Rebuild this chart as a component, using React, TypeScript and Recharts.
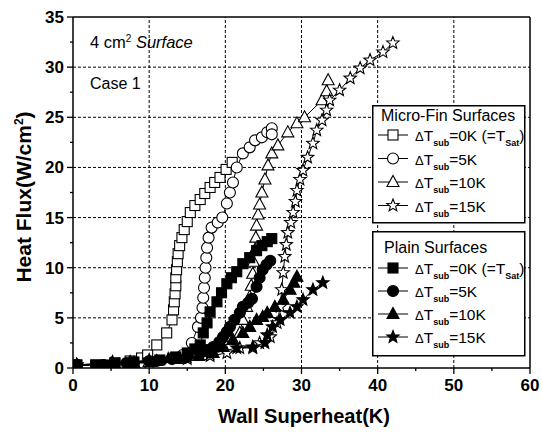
import {
  ScatterChart,
  Scatter,
  XAxis,
  YAxis,
  ReferenceLine,
  Legend,
} from "recharts";

// micro-fin surfaces (open symbols)
const microSat = [
  { x: 0.5, y: 0.3 }, { x: 3, y: 0.3 }, { x: 5.5, y: 0.5 }, { x: 7.5, y: 0.7 }, { x: 9, y: 1 },
  { x: 9.8, y: 1.3 }, { x: 11, y: 2.3 }, { x: 12.3, y: 3.5 }, { x: 13, y: 4.8 }, { x: 13.2, y: 5.8 },
  { x: 13.3, y: 6.6 }, { x: 13.4, y: 7.4 }, { x: 13.5, y: 8.2 }, { x: 13.5, y: 9 }, { x: 13.6, y: 9.8 },
  { x: 13.7, y: 10.6 }, { x: 13.8, y: 11.4 }, { x: 14, y: 12.2 }, { x: 14.3, y: 13 }, { x: 14.6, y: 13.8 },
  { x: 15, y: 14.6 }, { x: 15.4, y: 15.5 }, { x: 16, y: 16.2 }, { x: 16.7, y: 16.8 }, { x: 17.3, y: 17.4 },
  { x: 18, y: 18 }, { x: 18.6, y: 18.5 }, { x: 19.3, y: 19 }, { x: 20.1, y: 19.8 }, { x: 20.9, y: 20.5 },
];
const micro5 = [
  { x: 0.5, y: 0.3 }, { x: 4, y: 0.3 }, { x: 8, y: 0.5 }, { x: 11, y: 0.7 }, { x: 13, y: 1 },
  { x: 14.4, y: 1.3 }, { x: 15.6, y: 2.5 }, { x: 16.4, y: 4.1 }, { x: 16.8, y: 5 }, { x: 17, y: 6 },
  { x: 17.1, y: 7 }, { x: 17.2, y: 8 }, { x: 17.3, y: 9 }, { x: 17.4, y: 10 }, { x: 17.5, y: 11 },
  { x: 17.6, y: 12 }, { x: 17.8, y: 13 }, { x: 18.2, y: 14 }, { x: 19, y: 14.5 }, { x: 19.6, y: 15 },
  { x: 20.2, y: 16.4 }, { x: 20.6, y: 17.5 }, { x: 21, y: 18.5 }, { x: 21.5, y: 20 }, { x: 22.3, y: 21.4 },
  { x: 23.2, y: 22 }, { x: 23.9, y: 22.7 }, { x: 24.8, y: 23 }, { x: 25.5, y: 23.5 }, { x: 26.1, y: 23.9 },
  { x: 26.1, y: 23.3 },
];
const micro10 = [
  { x: 0.5, y: 0.3 }, { x: 5, y: 0.4 }, { x: 10, y: 0.6 }, { x: 14, y: 0.9 }, { x: 17, y: 1.3 },
  { x: 19.3, y: 2.4 }, { x: 21, y: 2.8 }, { x: 21.9, y: 3.5 }, { x: 22.3, y: 4.8 }, { x: 22.8, y: 6.1 },
  { x: 23.2, y: 7.1 }, { x: 23.4, y: 8.2 }, { x: 23.6, y: 9.4 }, { x: 23.7, y: 10.6 }, { x: 23.9, y: 11.8 },
  { x: 24, y: 13 }, { x: 24.1, y: 14.2 }, { x: 24.3, y: 15.3 }, { x: 24.5, y: 16.3 }, { x: 24.8, y: 17.5 },
  { x: 25.2, y: 18.8 }, { x: 25.6, y: 20.2 }, { x: 26.1, y: 21.4 }, { x: 26.9, y: 22.2 }, { x: 28.2, y: 23.5 },
  { x: 29.4, y: 24.4 }, { x: 30.4, y: 25 }, { x: 32.7, y: 26.7 }, { x: 33.3, y: 27.6 }, { x: 33.5, y: 28.7 },
];
const micro15 = [
  { x: 0.5, y: 0.3 }, { x: 5, y: 0.4 }, { x: 10, y: 0.6 }, { x: 15, y: 0.9 }, { x: 18, y: 1.2 },
  { x: 20.2, y: 1.5 }, { x: 21.9, y: 2 }, { x: 23.6, y: 2 }, { x: 24.5, y: 2.5 }, { x: 25.9, y: 3.1 },
  { x: 26.8, y: 4.5 }, { x: 27.2, y: 6.1 }, { x: 27.4, y: 7.8 }, { x: 27.6, y: 9.5 }, { x: 27.8, y: 11.1 },
  { x: 28, y: 12.3 }, { x: 28.2, y: 13.5 }, { x: 28.6, y: 14.5 }, { x: 28.9, y: 15.5 }, { x: 29.2, y: 16.6 },
  { x: 29.4, y: 17.7 }, { x: 29.8, y: 18.8 }, { x: 30.2, y: 19.7 }, { x: 30.8, y: 21 }, { x: 31.5, y: 22.4 },
  { x: 32, y: 23.7 }, { x: 32.7, y: 24.7 }, { x: 33.3, y: 25.7 }, { x: 33.7, y: 26.7 }, { x: 35, y: 27.7 },
  { x: 36.4, y: 28.9 }, { x: 37.7, y: 29.9 }, { x: 39, y: 30.7 }, { x: 40.7, y: 31.5 }, { x: 42, y: 32.4 },
];

// plain surfaces (filled symbols)
const plainSat = [
  { x: 0.5, y: 0.3 }, { x: 3, y: 0.3 }, { x: 5.5, y: 0.5 }, { x: 8, y: 0.6 }, { x: 11.4, y: 0.8 },
  { x: 13.5, y: 1.1 }, { x: 15, y: 1.5 }, { x: 16, y: 1.9 }, { x: 16.7, y: 2.3 }, { x: 17.1, y: 3.5 },
  { x: 17.6, y: 4.5 }, { x: 18, y: 5.6 }, { x: 18.9, y: 6.6 }, { x: 19.5, y: 7.5 }, { x: 20.2, y: 8.4 },
  { x: 20.8, y: 9 }, { x: 21.5, y: 9.6 }, { x: 22.3, y: 10.4 }, { x: 23.2, y: 11 }, { x: 24.1, y: 11.7 },
  { x: 24.8, y: 12.2 }, { x: 25.5, y: 12.6 }, { x: 26.1, y: 12.9 },
];
const plain5 = [
  { x: 0.5, y: 0.3 }, { x: 4, y: 0.3 }, { x: 7, y: 0.5 }, { x: 10, y: 0.7 }, { x: 13, y: 0.9 },
  { x: 15, y: 1.1 }, { x: 16.7, y: 1.5 }, { x: 17.6, y: 1.8 }, { x: 18.4, y: 2.1 }, { x: 19.2, y: 2.6 },
  { x: 19.7, y: 3.1 }, { x: 20.2, y: 3.6 }, { x: 20.6, y: 4.1 }, { x: 21.2, y: 4.8 }, { x: 21.9, y: 5.5 },
  { x: 22.3, y: 6.1 }, { x: 23, y: 6.5 }, { x: 23.5, y: 6.9 }, { x: 24.1, y: 8.1 }, { x: 24.5, y: 9 },
  { x: 24.9, y: 9.8 }, { x: 25.4, y: 10.3 }, { x: 25.9, y: 10.7 },
];
const plain10 = [
  { x: 0.5, y: 0.3 }, { x: 5, y: 0.4 }, { x: 8, y: 0.5 }, { x: 11, y: 0.7 }, { x: 14, y: 0.9 },
  { x: 16.5, y: 1.2 }, { x: 18.4, y: 1.5 }, { x: 19.7, y: 2.1 }, { x: 21, y: 2.8 }, { x: 22.3, y: 3.5 },
  { x: 23.2, y: 4.1 }, { x: 24.1, y: 4.8 }, { x: 24.9, y: 5.1 }, { x: 25.5, y: 5.5 }, { x: 26.5, y: 6.1 },
  { x: 27.6, y: 6.8 }, { x: 28.5, y: 7.8 }, { x: 29, y: 8.5 }, { x: 29.4, y: 9.1 },
];
const plain15 = [
  { x: 0.5, y: 0.3 }, { x: 5.2, y: 0.6 }, { x: 7.5, y: 0.6 }, { x: 10, y: 0.8 }, { x: 12.5, y: 0.9 },
  { x: 15, y: 1.1 }, { x: 18, y: 1.4 }, { x: 21.5, y: 2 }, { x: 23.6, y: 2.1 }, { x: 25.2, y: 2.5 },
  { x: 25.5, y: 3.3 }, { x: 26.2, y: 4.1 }, { x: 27.2, y: 4.8 }, { x: 28.5, y: 5.5 }, { x: 29.4, y: 6.1 },
  { x: 30.2, y: 6.8 }, { x: 31.5, y: 7.8 }, { x: 32.8, y: 8.5 },
];

const xTicks = [0, 5, 10, 15, 20, 25, 30, 35, 40, 45, 50, 55, 60];
const yTicks = [0, 2.5, 5, 7.5, 10, 12.5, 15, 17.5, 20, 22.5, 25, 27.5, 30, 32.5, 35];
const xGrid = [10, 20, 30, 40, 50];
const yGrid = [5, 10, 15, 20, 25, 30];
const subLabels = ["=0K (=T", "=5K", "=10K", "=15K"];

const FONT = "'Liberation Sans', Arial, Helvetica, sans-serif";

function Marker({ kind, filled, cx, cy }: any) {
  const fill = filled ? "#000" : "#fff";
  const sw = 1.1;
  if (kind === "square") {
    return <rect x={cx - 5} y={cy - 5} width={10} height={10} fill={fill} stroke="#000" strokeWidth={sw} />;
  }
  if (kind === "circle") {
    return <circle cx={cx} cy={cy} r={5.5} fill={fill} stroke="#000" strokeWidth={sw} />;
  }
  if (kind === "triangle") {
    return (
      <polygon
        points={`${cx},${cy - 6.5} ${cx + 6},${cy + 4.5} ${cx - 6},${cy + 4.5}`}
        fill={fill}
        stroke="#000"
        strokeWidth={sw}
      />
    );
  }
  // star
  const pts: string[] = [];
  for (let i = 0; i < 10; i++) {
    const r = i % 2 === 0 ? 6.5 : 2.8;
    const a = -Math.PI / 2 + (i * Math.PI) / 5;
    pts.push(`${cx + r * Math.cos(a)},${cy + r * Math.sin(a)}`);
  }
  return <polygon points={pts.join(" ")} fill={fill} stroke="#000" strokeWidth={sw} />;
}

const shapeOf = (kind: string, filled: boolean) => (p: any) =>
  <Marker kind={kind} filled={filled} cx={p.cx} cy={p.cy} />;

function XTick({ x, y, payload }: any) {
  const major = payload.value % 10 === 0;
  return (
    <g>
      <line x1={x} y1={y} x2={x} y2={y + (major ? 6 : 3)} stroke="#000" strokeWidth={1.3} />
      {major && (
        <text x={x} y={y + 23} textAnchor="middle" fontSize={17} fontWeight="bold" fontFamily={FONT} fill="#000">
          {payload.value}
        </text>
      )}
    </g>
  );
}

function YTick({ x, y, payload }: any) {
  const major = payload.value % 5 === 0;
  return (
    <g>
      <line x1={x} y1={y} x2={x - (major ? 6 : 3)} y2={y} stroke="#000" strokeWidth={1.3} />
      {major && (
        <text x={x - 9} y={y + 6} textAnchor="end" fontSize={17} fontWeight="bold" fontFamily={FONT} fill="#000">
          {payload.value}
        </text>
      )}
    </g>
  );
}

function LegendRow({ y, kind, filled, label, sat }: any) {
  return (
    <g>
      <line x1={6} y1={y} x2={36} y2={y} stroke="#000" strokeWidth={1} />
      <Marker kind={kind} filled={filled} cx={21} cy={y} />
      <text x={43} y={y + 6} fontSize={15.5} fontFamily={FONT} fill="#000">
        <tspan fontSize={13}>Δ</tspan>T
        <tspan dy={5} fontSize={9} fontWeight="bold">sub</tspan>
        <tspan dy={-5}>{label}</tspan>
        {sat && (
          <>
            <tspan dy={5} fontSize={9} fontWeight="bold">Sat</tspan>
            <tspan dy={-5}>)</tspan>
          </>
        )}
      </text>
    </g>
  );
}

const kinds = ["square", "circle", "triangle", "star"];

function LegendBoxes() {
  return (
    <svg width={156} height={253} style={{ display: "block", overflow: "visible" }}>
      <rect x={0.75} y={0.75} width={152} height={117} fill="#fff" stroke="#000" strokeWidth={1.5} />
      <text x={9} y={16} fontSize={16} fontFamily={FONT} fill="#000">Micro-Fin Surfaces</text>
      {kinds.map((k, i) => (
        <LegendRow key={k} y={30 + i * 23.5} kind={k} filled={false} label={subLabels[i]} sat={i === 0} />
      ))}
      <rect x={0.75} y={126.75} width={152} height={124} fill="#fff" stroke="#000" strokeWidth={1.5} />
      <text x={12} y={148} fontSize={16} fontFamily={FONT} fill="#000">Plain Surfaces</text>
      {kinds.map((k, i) => (
        <LegendRow key={k} y={163 + i * 23} kind={k} filled={true} label={subLabels[i]} sat={i === 0} />
      ))}
    </svg>
  );
}

export default function App() {
  const series = [
    { data: microSat, kind: "square", filled: false },
    { data: micro5, kind: "circle", filled: false },
    { data: micro10, kind: "triangle", filled: false },
    { data: micro15, kind: "star", filled: false },
    { data: plainSat, kind: "square", filled: true },
    { data: plain5, kind: "circle", filled: true },
    { data: plain10, kind: "triangle", filled: true },
    { data: plain15, kind: "star", filled: true },
  ];
  return (
    <div style={{ position: "absolute", left: 0, top: 0, width: 542, height: 439, background: "#fff" }}>
      <ScatterChart width={542} height={439} margin={{ top: 17, right: 12, bottom: 0, left: 0 }}>
        <XAxis
          type="number"
          dataKey="x"
          domain={[0, 60]}
          ticks={xTicks}
          interval={0}
          tick={<XTick />}
          tickLine={false}
          tickSize={0}
          tickMargin={0}
          height={71}
          axisLine={{ stroke: "#000", strokeWidth: 1.5 }}
          allowDataOverflow
        />
        <YAxis
          type="number"
          dataKey="y"
          domain={[0, 35]}
          ticks={yTicks}
          interval={0}
          tick={<YTick />}
          tickLine={false}
          tickSize={0}
          tickMargin={0}
          width={73}
          axisLine={{ stroke: "#000", strokeWidth: 1.5 }}
          allowDataOverflow
        />
        {xGrid.map((v) => (
          <ReferenceLine key={"gx" + v} x={v} stroke="#000" strokeWidth={1} strokeDasharray="3 2" />
        ))}
        {yGrid.map((v) => (
          <ReferenceLine key={"gy" + v} y={v} stroke="#000" strokeWidth={1} strokeDasharray="3 2" />
        ))}
        <ReferenceLine y={35} stroke="#000" strokeWidth={1.5} />
        <ReferenceLine x={60} stroke="#000" strokeWidth={1.5} />
        {series.map((s, i) => (
          <Scatter
            key={i}
            data={s.data}
            line={{ stroke: "#000", strokeWidth: 1 }}
            lineType="joint"
            shape={shapeOf(s.kind, s.filled)}
            isAnimationActive={false}
          />
        ))}
        <Legend
          layout="vertical"
          align="center"
          verticalAlign="middle"
          content={() => <LegendBoxes />}
          wrapperStyle={{ left: 372, top: 105, width: 156, height: 253 }}
        />
      </ScatterChart>
      <svg
        width={542}
        height={439}
        style={{ position: "absolute", left: 0, top: 0, pointerEvents: "none" }}
      >
        <text x={90} y={48} fontSize={16.5} fontFamily={FONT} fill="#000">
          4 cm<tspan dy={-6} fontSize={10}>2</tspan>
          <tspan dy={6} fontStyle="italic"> Surface</tspan>
        </text>
        <text x={90} y={89} fontSize={16} fontFamily={FONT} fill="#000">Case 1</text>
        <text
          x={304}
          y={423}
          textAnchor="middle"
          fontSize={20}
          fontWeight="bold"
          fontFamily={FONT}
          fill="#000"
          textLength={172}
          lengthAdjust="spacingAndGlyphs"
        >
          Wall Superheat(K)
        </text>
        <text
          transform="translate(31,197) rotate(-90)"
          textAnchor="middle"
          fontSize={21}
          fontWeight="bold"
          fontFamily={FONT}
          fill="#000"
        >
          Heat Flux(W/cm<tspan dy={-8} fontSize={12}>2</tspan>
          <tspan dy={8}>)</tspan>
        </text>
      </svg>
    </div>
  );
}
